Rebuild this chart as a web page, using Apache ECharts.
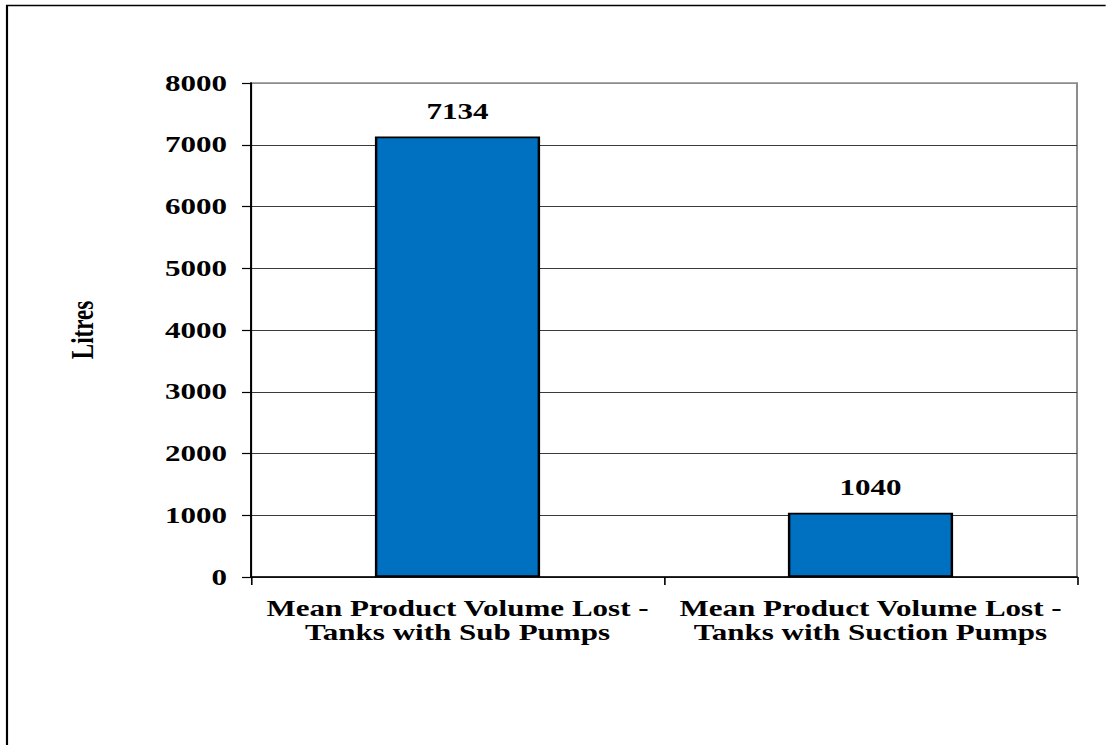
<!DOCTYPE html>
<html>
<head>
<meta charset="utf-8">
<script src="https://cdn.jsdelivr.net/npm/echarts@6/dist/echarts.min.js"></script>
<style>
  html, body { margin: 0; padding: 0; background: #fff; overflow: hidden; }
  #wrap { width: 1106px; height: 745px; overflow: hidden; position: relative; }
  /* the chart is laid out narrow and widened horizontally, giving the wide serif lettering */
  #chart { position: absolute; left: 0; top: 0; height: 745px; transform-origin: 0 0; }
</style>
</head>
<body>
<div id="wrap"><div id="chart"></div></div>
<script>
// Mean product volume lost by tank pump type
const categories = [
  'Mean Product Volume Lost -\nTanks with Sub Pumps',
  'Mean Product Volume Lost -\nTanks with Suction Pumps'
];
const volumeLost = [7134, 1040];
const yTicks = { min: 0, max: 8000, interval: 1000 };
const yAxisTitle = 'Litres';

const STRETCH = 1.35;
const W = 1106 / STRETCH;
const el = document.getElementById('chart');
el.style.width = W + 'px';
el.style.transform = 'scaleX(' + STRETCH + ')';

const FONT = "'Liberation Serif', 'Times New Roman', serif";
const chart = echarts.init(el, null, { renderer: 'svg', width: W, height: 745 });

// grid lines: dark for inner values, grey for the top edge
const nLines = (yTicks.max - yTicks.min) / yTicks.interval + 1;
const splitColors = [];
for (let i = 0; i < nLines; i++) splitColors.push(i === nLines - 1 ? '#8c8c8c' : '#3a3a3a');

const textBase = { color: '#000', fontFamily: FONT, fontWeight: 'bold', fontSize: 23 };

chart.setOption({
  animation: false,
  backgroundColor: '#ffffff',
  textStyle: { fontFamily: FONT },
  grid: {
    left: 251 / STRETCH,
    right: W - 1077 / STRETCH,
    top: 83,
    bottom: 745 - 577,
    show: true,
    borderColor: '#8c8c8c',
    borderWidth: 1.5,
    containLabel: false
  },
  graphic: [{
    type: 'rect',
    shape: { x: 7 / STRETCH, y: 5.5, width: 2000, height: 2000 },
    style: { fill: 'none', stroke: '#000', lineWidth: 1.6 },
    silent: true
  }],
  xAxis: {
    type: 'category',
    data: categories,
    boundaryGap: true,
    axisLine: { show: true, lineStyle: { color: '#000', width: 1.5 } },
    axisTick: { show: true, length: 8, lineStyle: { color: '#000', width: 1.2 } },
    axisLabel: Object.assign({
      interval: 0,
      margin: 19,
      lineHeight: 24,
      align: 'center'
    }, textBase),
    splitLine: { show: false }
  },
  yAxis: {
    type: 'value',
    min: yTicks.min,
    max: yTicks.max,
    interval: yTicks.interval,
    name: yAxisTitle,
    nameLocation: 'middle',
    nameGap: 113,
    nameRotate: 90,
    nameTextStyle: Object.assign({}, textBase),
    axisLine: { show: true, lineStyle: { color: '#000', width: 1.5 } },
    axisTick: { show: true, length: 9 / STRETCH, lineStyle: { color: '#000', width: 1.2 } },
    axisLabel: Object.assign({
      margin: 24 / STRETCH,
      formatter: function (v) { return String(v); }
    }, textBase),
    splitLine: { show: true, lineStyle: { color: splitColors, width: 1.2 } }
  },
  series: [{
    type: 'bar',
    data: volumeLost,
    barWidth: '40%',
    itemStyle: { color: '#0070c0', borderColor: '#000', borderWidth: 1.8 },
    label: Object.assign({
      show: true,
      position: 'top',
      distance: 14
    }, textBase)
  }]
});
</script>
</body>
</html>
